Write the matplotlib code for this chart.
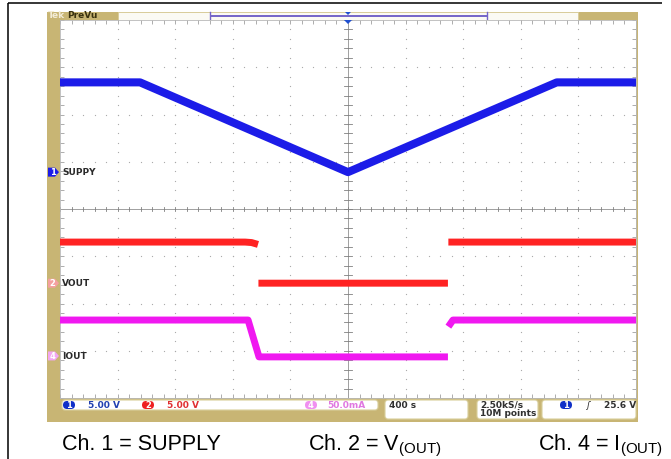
"""Scope capture: supply ramp down/up with VOUT and IOUT response."""

import matplotlib

matplotlib.use("Agg")
import matplotlib.pyplot as plt
import numpy as np
from matplotlib.patches import FancyBboxPatch, Polygon, Rectangle

plt.rcParams["mathtext.default"] = "regular"

# ---- data (time in s, 400 s/div, 10 div) ----
time_span = 4000.0
div_v = 8

# channel 1: supply, 5 V/div, ground marker at +0.78 div
ch1_scale, ch1_offset = 5.0, 0.78
supply_t = [0, 556, 2000, 3450, 4000]
supply_v = [9.5, 9.5, 0.0, 9.5, 9.5]

# channel 2: VOUT, 5 V/div, ground marker at -1.57 div
ch2_scale, ch2_offset = 5.0, -1.57
vout_t = [0, 1285, 1330, 1375, np.nan, 1378, 2694, np.nan, 2697, 4000]
vout_v = [4.35, 4.35, 4.3, 4.1, np.nan, 0.0, 0.0, np.nan, 4.35, 4.35]

# channel 4: IOUT, 50 mA/div, ground marker at -3.11 div
ch4_scale, ch4_offset = 50.0, -3.11
iout_t = [0, 1306, 1382, 2694, np.nan, 2697, 2729, 4000]
iout_ma = [38, 38, -1, -1, np.nan, 31, 38, 38]

captions = ["Ch. 1 = SUPPLY", "Ch. 2 = V$_{(OUT)}$", "Ch. 4 = I$_{(OUT)}$"]
caption_x = [62, 308, 538]

W, H = 671, 459
PL, PR, PT, PB = 60, 636, 20, 398  # plot box in pixels
TAN = "#c8b574"
BLUE = "#1c1ce8"
RED = "#ff2323"
MAG = "#f018f0"

fig = plt.figure(figsize=(W / 100, H / 100), dpi=100)

bg = fig.add_axes([0, 0, 1, 1], zorder=0)
bg.set_xlim(0, W)
bg.set_ylim(H, 0)
bg.axis("off")

ax = fig.add_axes([PL / W, 1 - PB / H, (PR - PL) / W, (PB - PT) / H], zorder=2)
ax.set_xlim(0, time_span)
ax.set_ylim(-div_v / 2, div_v / 2)
ax.set_facecolor("white")
for sp in ax.spines.values():
    sp.set_color("#b8b8b8")
    sp.set_linewidth(0.6)

top = fig.add_axes([0, 0, 1, 1], zorder=4)
top.set_xlim(0, W)
top.set_ylim(H, 0)
top.axis("off")
top.patch.set_alpha(0)


def to_py(div):
    return PB - (div + div_v / 2) / div_v * (PB - PT)


# outer frame lines
bg.plot([8, 662], [3, 3], color="black", lw=1.1, solid_capstyle="butt")
bg.plot([8, 8], [3, H], color="black", lw=1.1, solid_capstyle="butt")

# tan bezel
bg.add_patch(Rectangle((47, 12), 638 - 47, 422 - 12, color=TAN, lw=0))

# ---- graticule ----
tdiv = time_span / 10
major_x = np.arange(1, 10) * tdiv
major_y = np.arange(-3, 4)
minor_x = np.arange(0, time_span + 1, tdiv / 5)
minor_y = np.arange(-4, 4.01, 0.2)
for mx in major_x:
    ax.scatter(np.full(minor_y.size, mx), minor_y, s=0.8, color="#a8a8a8", lw=0, zorder=1)
for my in major_y:
    ax.scatter(minor_x, np.full(minor_x.size, my), s=0.8, color="#a8a8a8", lw=0, zorder=1)
ax.axvline(time_span / 2, color="#909090", lw=0.6, zorder=1)
ax.axhline(0, color="#909090", lw=0.6, zorder=1)
for mx in minor_x:
    ax.plot([mx, mx], [-0.05, 0.05], color="#808080", lw=0.6, zorder=1)
for my in minor_y:
    ax.plot([time_span / 2 - 25, time_span / 2 + 25], [my, my], color="#808080", lw=0.6, zorder=1)
ax.set_xticks(minor_x, minor=True)
ax.set_yticks(minor_y, minor=True)
ax.set_xticks(np.arange(0, time_span + 1, tdiv))
ax.set_yticks(np.arange(-4, 5))
ax.tick_params(which="both", direction="in", length=3, width=0.6, color="#a0a0a0",
               top=True, right=True, labelbottom=False, labelleft=False)

# ---- traces ----
ax.plot(supply_t, np.array(supply_v) / ch1_scale + ch1_offset, color=BLUE, lw=5.8, zorder=3,
        solid_joinstyle="round")
ax.plot(vout_t, np.array(vout_v) / ch2_scale + ch2_offset, color=RED, lw=5.0, zorder=3,
        solid_capstyle="butt")
ax.plot(iout_t, np.array(iout_ma) / ch4_scale + ch4_offset, color=MAG, lw=5.0, zorder=3,
        solid_capstyle="butt")

# ---- channel ground markers ----
markers = [("1", ch1_offset, BLUE, "SUPPY"), ("2", ch2_offset, "#f4a0a0", "VOUT"),
           ("4", ch4_offset, "#f2a6f2", "IOUT")]
for num, off, col, lab in markers:
    py = to_py(off)
    top.add_patch(Polygon([[48, py - 4.5], [55, py - 4.5], [59, py], [55, py + 4.5], [48, py + 4.5]],
                          closed=True, color=col, lw=0))
    top.text(52.5, py + 0.3, num, color="white", fontsize=6, fontweight="bold",
             ha="center", va="center")
    top.text(62, py + 0.3, lab, color="#2a2a2a", fontsize=6.5, fontweight="bold",
             ha="left", va="center")

# ---- top status strip ----
top.text(48, 16, "Tek", color="#f3ecd8", fontsize=6.5, fontweight="bold", ha="left", va="center")
top.text(67, 16, "PreVu", color="#3a3210", fontsize=6.5, fontweight="bold", ha="left", va="center")
bg.add_patch(Rectangle((118, 12), 578 - 118, 8, facecolor="#fbfaf4", edgecolor="#d8cc98", lw=0.6))
bg.plot([210, 487], [16, 16], color="#7464c8", lw=1.4, solid_capstyle="butt")
bg.plot([210, 210], [12, 20], color="#7464c8", lw=1.0)
bg.plot([487, 487], [12, 20], color="#7464c8", lw=1.0)
top.add_patch(Polygon([[345, 12], [351, 12], [348, 15]], closed=True, color="#2050d0", lw=0))
top.add_patch(Polygon([[344, 20], [352, 20], [348, 24]], closed=True, color="#2050d0", lw=0))

# ---- bottom readout boxes ----
def box(x0, x1, y0, y1):
    bg.add_patch(FancyBboxPatch((x0, y0), x1 - x0, y1 - y0,
                                boxstyle="round,pad=0,rounding_size=3",
                                facecolor="white", edgecolor="#d9cf9c", lw=0.8, zorder=3))


def pill(x0, yc, col, num):
    top.add_patch(FancyBboxPatch((x0, yc - 4), 12, 8, boxstyle="round,pad=0,rounding_size=4",
                                 facecolor=col, edgecolor="none"))
    top.text(x0 + 6, yc + 0.3, num, color="white", fontsize=6, fontweight="bold",
             ha="center", va="center")


box(62, 378, 400, 410)
box(385, 468, 400, 419)
box(477, 538, 400, 419)
box(542, 636, 400, 419)

ry = 405
pill(63, ry, "#1030c8", "1")
top.text(88, ry, "5.00 V", color="#2040b0", fontsize=6.5, fontweight="bold", va="center")
pill(142, ry, "#ee2020", "2")
top.text(167, ry, "5.00 V", color="#e03030", fontsize=6.5, fontweight="bold", va="center")
pill(305, ry, "#f090f0", "4")
top.text(327, ry, "50.0mA", color="#e078e0", fontsize=6.5, fontweight="bold", va="center")
top.text(389, ry, "400 s", color="#303030", fontsize=6.5, fontweight="bold", va="center")
top.text(480, ry, "2.50kS/s", color="#303030", fontsize=6.5, fontweight="bold", va="center")
top.text(480, 414, "10M points", color="#303030", fontsize=6.5, fontweight="bold", va="center")
pill(560, ry, "#1030c8", "1")
top.text(588, ry, "ʃ", color="#303030", fontsize=6.5, style="italic", va="center", ha="center")
top.text(604, ry, "25.6 V", color="#303030", fontsize=6.5, fontweight="bold", va="center")

# ---- caption ----
for txt, cx in zip(captions, caption_x):
    top.text(cx, 450, txt, fontsize=15.5, family="Liberation Sans", color="black",
             ha="left", va="baseline")

fig.savefig("out.png", dpi=100)
